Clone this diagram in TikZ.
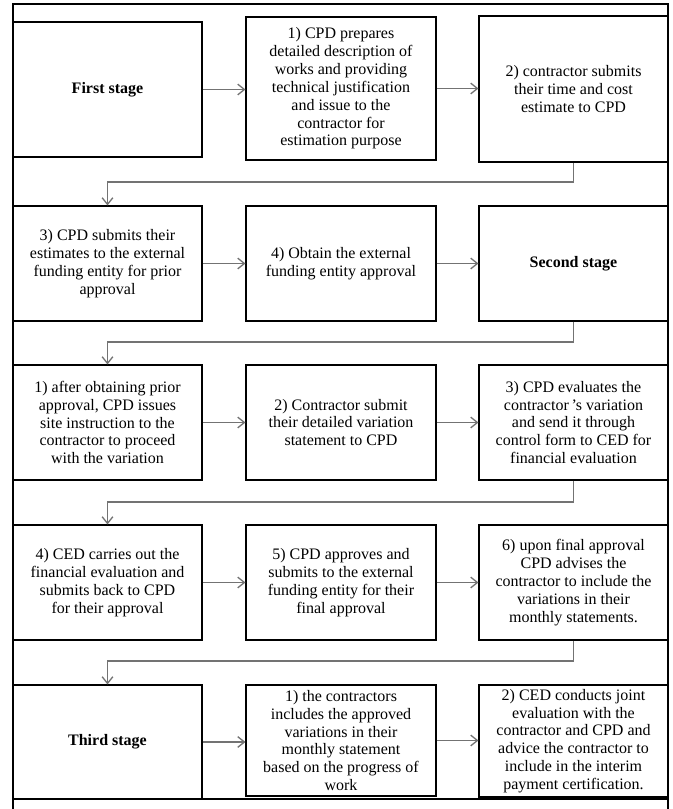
\documentclass[tikz,border=0pt]{standalone}
\usepackage{fontspec}
\setmainfont{Liberation Serif}
\usetikzlibrary{arrows.meta}
\definecolor{conn}{RGB}{115,115,115}
\tikzset{
  box/.style={draw=black, line width=0.8pt, align=center, inner sep=0pt,
    font=\fontsize{12}{13.4}\selectfont},
  stagebox/.style={box, font=\fontsize{12}{13.4}\selectfont\bfseries},
  conn/.style={draw=conn, line width=1.3pt, -{Straight Barb[length=5pt,width=8pt,line width=1pt]}},
  frame/.style={draw=black, line width=1.1pt}
}
\newcommand\pbox[7]{%
  \node[#1, minimum width={(#4-#2)*0.75pt}, minimum height={(#5-#3)*0.75pt}]
    (#6) at ({(#2+#4)/2},{(#3+#5)/2}) {#7};}
\begin{document}
\begin{tikzpicture}[x=0.75pt,y=-0.75pt]
\useasboundingbox (0,0) rectangle (673,809);
% frame
\draw[frame] (13,812) -- (13,4) -- (668,4) -- (668,812);
\draw[frame] (13,799) -- (668,799);
% row 1
\pbox{stagebox}{13}{22}{202}{157}{r1a}{First stage}
\pbox{box}{246}{17}{436}{160}{r1b}{1) CPD prepares\\detailed description of\\works and providing\\technical justification\\and issue to the\\contractor for\\estimation purpose}
\pbox{box}{479}{16}{668}{162}{r1c}{2) contractor submits\\their time and cost\\estimate to CPD}
% row 2
\pbox{box}{13}{206}{202}{321}{r2a}{3) CPD submits their\\estimates to the external\\funding entity for prior\\approval}
\pbox{box}{246}{206}{436}{321}{r2b}{4) Obtain the external\\funding entity approval}
\pbox{stagebox}{479}{206}{668}{321}{r2c}{Second stage}
% row 3
\pbox{box}{13}{365}{202}{480}{r3a}{1) after obtaining prior\\approval, CPD issues\\site instruction to the\\contractor to proceed\\with the variation}
\pbox{box}{246}{365}{436}{480}{r3b}{2) Contractor submit\\their detailed variation\\statement to CPD}
\pbox{box}{479}{365}{668}{480}{r3c}{3) CPD evaluates the\\contractor\,’s variation\\and send it through\\control form to CED for\\financial evaluation}
% row 4
\pbox{box}{13}{525}{202}{640}{r4a}{4) CED carries out the\\financial evaluation and\\submits back to CPD\\for their approval}
\pbox{box}{246}{525}{436}{640}{r4b}{5) CPD approves and\\submits to the external\\funding entity for their\\final approval}
\pbox{box}{479}{525}{668}{640}{r4c}{6) upon final approval\\CPD advises the\\contractor to include the\\variations in their\\monthly statements.}
% row 5
\pbox{stagebox}{13}{685}{202}{799}{r5a}{Third stage}
\pbox{box}{246}{685}{436}{796}{r5b}{1) the contractors\\includes the approved\\variations in their\\monthly statement\\based on the progress of\\work}
\pbox{box}{479}{685}{668}{797}{r5c}{2) CED conducts joint\\evaluation with the\\contractor and CPD and\\advice the contractor to\\include in the interim\\payment certification.}
% horizontal connectors
\foreach \r in {1,...,5}{
  \draw[conn] (r\r a.east) -- (r\r a.east -| r\r b.west);
  \draw[conn] (r\r b.east) -- (r\r b.east -| r\r c.west);
}
% turn connectors
\coordinate (t1) at (107.5,182);
\coordinate (t2) at (107.5,342);
\coordinate (t3) at (107.5,502);
\coordinate (t4) at (107.5,661);
\draw[conn] (r1c.south) |- (t1) -- (r2a.north);
\draw[conn] (r2c.south) |- (t2) -- (r3a.north);
\draw[conn] (r3c.south) |- (t3) -- (r4a.north);
\draw[conn] (r4c.south) |- (t4) -- (r5a.north);
\end{tikzpicture}
\end{document}
